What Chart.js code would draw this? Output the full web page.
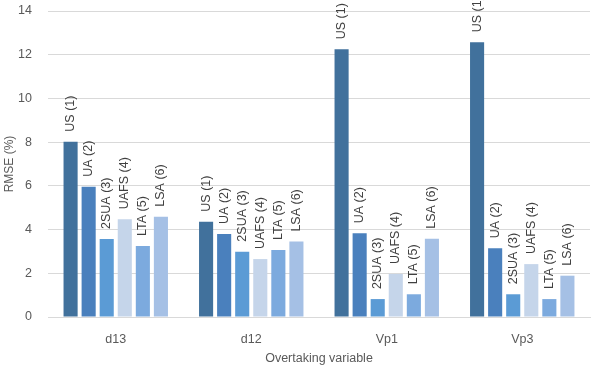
<!DOCTYPE html>
<html><head><meta charset="utf-8">
<script src="https://cdn.jsdelivr.net/npm/chart.js@4"></script>
<style>html,body{margin:0;padding:0;background:#fff}#w{width:600px;height:368px}</style>
</head><body><div id="w"><canvas id="c"></canvas></div>
<script>
const categories = ['d13', 'd12', 'Vp1', 'Vp3'];
const seriesNames = ['US (1)', 'UA (2)', '2SUA (3)', 'UAFS (4)', 'LTA (5)', 'LSA (6)'];
const US   = [8.02, 4.36, 12.25, 12.57];
const UA   = [5.96, 3.80, 3.83, 3.14];
const SUA2 = [3.57, 2.99, 0.82, 1.04];
const UAFS = [4.47, 2.65, 1.97, 2.42];
const LTA  = [3.25, 3.06, 1.04, 0.82];
const LSA  = [4.59, 3.45, 3.58, 1.89];
const yTicks = [0, 2, 4, 6, 8, 10, 12, 14];
const colors = ['#41719c', '#4a80bd', '#5b9bd5', '#c5d5ea', '#7caade', '#a5c0e5'];
const seriesValues = [US, UA, SUA2, UAFS, LTA, LSA];

const labelPlugin = {
  id: 'barLabels',
  afterDatasetsDraw(chart) {
    const ctx = chart.ctx;
    ctx.save();
    ctx.font = '12.5px "Liberation Sans", Arial, sans-serif';
    ctx.fillStyle = '#404040';
    ctx.textAlign = 'left';
    ctx.textBaseline = 'middle';
    chart.data.datasets.forEach((ds, i) => {
      const meta = chart.getDatasetMeta(i);
      meta.data.forEach(bar => {
        ctx.save();
        ctx.translate(bar.x, bar.y - 10);
        ctx.rotate(-Math.PI / 2);
        ctx.fillText(ds.label, 0, 0);
        ctx.restore();
      });
    });
    ctx.restore();
  }
};

new Chart(document.getElementById('c'), {
  type: 'bar',
  data: {
    labels: categories,
    datasets: seriesNames.map((n, i) => ({
      label: n, data: seriesValues[i], backgroundColor: colors[i],
      categoryPercentage: 0.8, barPercentage: 0.78
    }))
  },
  options: {
    responsive: true, maintainAspectRatio: false, animation: false,
    layout: { padding: { left: 0, right: 10, top: 11, bottom: 0 } },
    plugins: { legend: { display: false }, tooltip: { enabled: false } },
    scales: {
      x: {
        grid: { display: false },
        border: { color: '#d9d9d9' },
        ticks: { color: '#595959', font: { size: 12.5, family: '"Liberation Sans", Arial' }, padding: 7 },
        title: { display: true, text: 'Overtaking variable', color: '#595959', font: { size: 12.5, family: '"Liberation Sans", Arial' }, padding: { top: 4, bottom: 2 } },
        afterFit(s) { s.height = 51; s.paddingLeft = 0; s.paddingRight = 0; }
      },
      y: {
        min: 0, max: 14,
        afterBuildTicks(s) { s.ticks = yTicks.map(v => ({ value: v })); },
        grid: { color: '#d9d9d9', drawTicks: false },
        border: { display: false },
        ticks: { color: '#595959', font: { size: 12.5, family: '"Liberation Sans", Arial' }, padding: 16 },
        title: { display: true, text: 'RMSE (%)', color: '#595959', font: { size: 12, family: '"Liberation Sans", Arial' }, padding: { top: 2, bottom: 4 } },
        afterFit(s) { s.width = 48; s.paddingTop = 0; s.paddingBottom = 0; }
      }
    }
  },
  plugins: [labelPlugin]
});
</script>
</body></html>
